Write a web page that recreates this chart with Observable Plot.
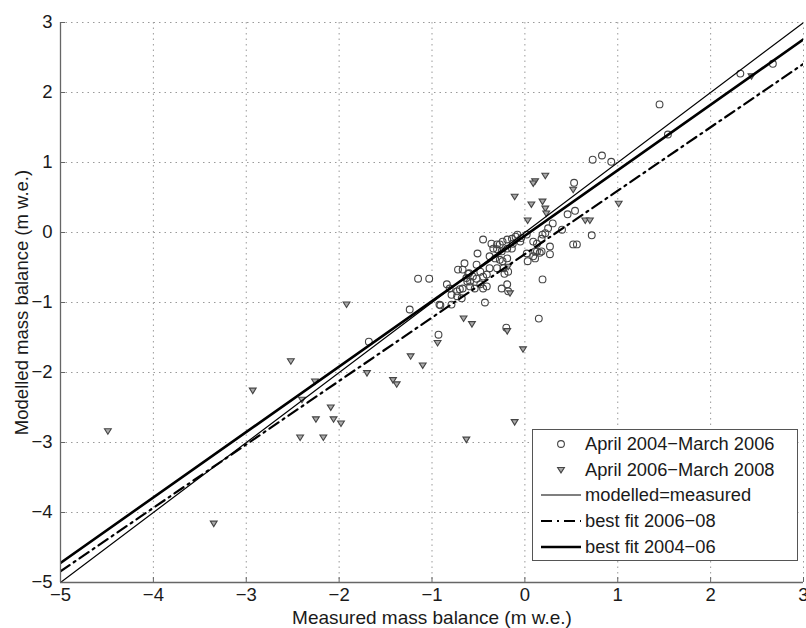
<!DOCTYPE html>
<html><head><meta charset="utf-8">
<script src="https://cdn.jsdelivr.net/npm/d3@7"></script>
<script src="https://cdn.jsdelivr.net/npm/@observablehq/plot@0.6"></script>
<style>
body{margin:0;background:#fff;font-family:"Liberation Sans",Arial,sans-serif;}
#wrap{position:relative;width:806px;height:628px;overflow:hidden;}
#legend{position:absolute;left:532px;top:429px;width:266px;height:132px;border:1.3px solid #555;background:#fff;box-sizing:border-box;}
</style></head><body><div id="wrap"></div>
<script>
// ---- data ----
const xTicks = [-5,-4,-3,-2,-1,0,1,2,3];
const yTicks = [-5,-4,-3,-2,-1,0,1,2,3];
const legendLabels = ["April 2004\u2212March 2006","April 2006\u2212March 2008","modelled=measured","best fit 2006\u221208","best fit 2004\u221206"];

// April 2004–March 2006 (circles)
const c0406x = [0.73,0.83,0.93,1.45,2.32,2.67,1.54,0.53,0.54,0.46,0.30,0.25,0.40,0.19,0.72,0.52,0.56,0.27,0.16,0.27,0.09,0.09,0.03,0.11,0.19,0.15,-0.20,-0.43,-0.93,-1.24,-1.15,-1.03,-0.92,-1.68,-0.45,-0.36,-0.30,-0.51,
 -0.08,-0.14,-0.19,-0.24,-0.27,-0.34,-0.30,-0.25,-0.19,-0.14,-0.13,-0.05,0.02,0.13,0.18,0.22,0.13,0.02,0.18,0.11,-0.19,-0.24,-0.27,-0.23,-0.22,-0.18,-0.25,-0.19,-0.18,-0.38,-0.32,-0.52,-0.48,-0.61,-0.67,-0.72,-0.56,-0.59,-0.52,-0.45,-0.41,-0.48,-0.54,-0.59,-0.67,-0.70,-0.73,-0.81,-0.84,-0.79,-0.73,-0.68,-0.79,-0.91,-0.62,-0.45,-0.41,-0.38,-0.30,-0.65,-0.10,-0.04,-0.60,-0.63];
const c0406y = [1.04,1.10,1.01,1.83,2.27,2.41,1.40,0.71,0.31,0.26,0.13,0.06,0.04,-0.03,-0.04,-0.17,-0.17,-0.20,-0.29,-0.31,-0.13,-0.34,-0.41,-0.27,-0.67,-1.23,-1.36,-1.00,-1.46,-1.10,-0.66,-0.66,-1.03,-1.56,-0.10,-0.16,-0.17,-0.30,
 -0.03,-0.09,-0.10,-0.13,-0.17,-0.23,-0.24,-0.27,-0.23,-0.23,-0.16,-0.13,-0.03,-0.16,-0.09,-0.01,-0.27,-0.30,-0.27,-0.37,-0.37,-0.41,-0.39,-0.51,-0.59,-0.56,-0.80,-0.74,-0.84,-0.34,-0.37,-0.46,-0.56,-0.59,-0.53,-0.53,-0.63,-0.70,-0.66,-0.63,-0.77,-0.74,-0.80,-0.77,-0.80,-0.81,-0.84,-0.80,-0.74,-0.89,-0.91,-0.94,-1.03,-1.04,-0.70,-0.80,-0.60,-0.51,-0.51,-0.44,-0.06,-0.08,-0.58,-0.65];

// April 2006–March 2008 (triangles)
const t0608x = [-4.49,-3.35,-2.52,-2.93,-2.26,-2.40,-2.09,-2.25,-2.06,-1.98,-2.42,-2.17,-1.70,-1.42,-1.38,-1.23,-1.10,-0.94,-0.63,-0.19,-0.02,-0.11,-0.66,-0.57,-1.92,-0.11,0.07,0.03,0.11,0.22,0.09,0.19,0.22,0.23,0.65,0.70,1.01,0.52,2.44,-0.16,-0.18];
const t0608y = [-2.84,-4.16,-1.84,-2.26,-2.13,-2.39,-2.50,-2.67,-2.67,-2.73,-2.93,-2.93,-2.01,-2.11,-2.17,-1.77,-1.90,-1.58,-2.96,-1.41,-1.67,-2.71,-1.23,-1.31,-1.03,0.51,0.40,0.17,0.73,0.81,0.70,0.44,0.34,0.27,0.17,0.17,0.41,0.61,2.23,-0.87,-0.49];

// lines: end points at x = -5 and x = 3
const lineX = [-5, 3];
const identY = [-5, 3];
const fit0608Y = [-4.84, 2.41];
const fit0406Y = [-4.72, 2.76];

// ---- build ----
const minus = d => d < 0 ? "\u2212" + Math.abs(d) : String(d);
const circles = c0406x.map((x,i)=>({x, y:c0406y[i]}));
const tris = t0608x.map((x,i)=>({x, y:t0608y[i]}));
const pts = ys => lineX.map((x,i)=>({x, y: ys[i]}));
const triDown = {draw(ctx, size){ const r = Math.sqrt(size/Math.PI); ctx.moveTo(-r,-0.75*r); ctx.lineTo(r,-0.75*r); ctx.lineTo(0,0.85*r); ctx.closePath(); }};

const plot = Plot.plot({
  width: 806, height: 628,
  marginLeft: 60, marginRight: 3, marginTop: 22, marginBottom: 46,
  style: {fontFamily: "Liberation Sans, Arial, sans-serif", fontSize: "18.5px", color: "#1a1a1a", background: "#fff", overflow: "visible"},
  x: {domain: [-5,3]},
  y: {domain: [-5,3]},
  marks: [
    Plot.gridX(xTicks, {stroke: "#9a9a9a", strokeOpacity: 1, strokeDasharray: "1.5,4"}),
    Plot.gridY(yTicks, {stroke: "#9a9a9a", strokeOpacity: 1, strokeDasharray: "1.5,4"}),
    Plot.dot(circles, {x: "x", y: "y", r: 3.4, stroke: "#444", strokeWidth: 1.1, fill: "none"}),
    Plot.dot(tris, {x: "x", y: "y", r: 3.4, symbol: triDown, stroke: "#444", strokeWidth: 1.1, fill: "#aaa"}),
    Plot.line(pts(identY), {x: "x", y: "y", stroke: "#000", strokeWidth: 1.2, clip: true}),
    Plot.line(pts(fit0608Y), {x: "x", y: "y", stroke: "#000", strokeWidth: 2.2, strokeDasharray: "11,5,2,5", clip: true}),
    Plot.line(pts(fit0406Y), {x: "x", y: "y", stroke: "#000", strokeWidth: 2.6, clip: true}),
    Plot.ruleX([-5], {stroke: "#666", strokeWidth: 1.3}),
    Plot.ruleY([-5], {stroke: "#666", strokeWidth: 1.3}),
    Plot.axisX(xTicks, {tickSize: -5, tickPadding: 10, stroke: "#666", tickFormat: minus, label: null}),
    Plot.axisX({ticks: [], tickSize: 0, label: "Measured mass balance (m w.e.)", labelAnchor: "center", labelArrow: "none", labelOffset: 41, fontSize: 19}),
    Plot.axisY(yTicks, {tickSize: -5, tickPadding: 13, stroke: "#666", tickFormat: minus, label: "Modelled mass balance (m w.e.)", labelAnchor: "center", labelArrow: "none", labelOffset: 46})
  ]
});
const wrap = document.getElementById("wrap");
wrap.appendChild(plot);

// legend
const leg = document.createElement("div");
leg.id = "legend";
wrap.appendChild(leg);
const ls = d3.select(leg).append("svg").attr("width", 264).attr("height", 130);
const rowY = [14, 40, 65, 91, 117];
const g = ls.selectAll("g").data(legendLabels).join("g").attr("transform", (d,i)=>`translate(0,${rowY[i]})`);
g.append("text").attr("x", 52).attr("dy", "0.35em").text(d=>d)
  .style("font-family", "Liberation Sans, Arial, sans-serif").style("font-size", "18.3px").style("fill", "#1a1a1a");
ls.append("circle").attr("cx", 28).attr("cy", rowY[0]).attr("r", 3.4).attr("fill","none").attr("stroke","#444").attr("stroke-width",1.1);
ls.append("path").attr("transform", `translate(28,${rowY[1]})`).attr("d", "M-3.4,-2.5L3.4,-2.5L0,2.9Z").attr("fill","#aaa").attr("stroke","#444").attr("stroke-width",1.1);
ls.append("line").attr("x1",8).attr("x2",48).attr("y1",rowY[2]).attr("y2",rowY[2]).attr("stroke","#000").attr("stroke-width",1.2);
ls.append("line").attr("x1",8).attr("x2",48).attr("y1",rowY[3]).attr("y2",rowY[3]).attr("stroke","#000").attr("stroke-width",2.2).attr("stroke-dasharray","11,5,2,5");
ls.append("line").attr("x1",8).attr("x2",48).attr("y1",rowY[4]).attr("y2",rowY[4]).attr("stroke","#000").attr("stroke-width",2.6);
</script>
</body></html>
